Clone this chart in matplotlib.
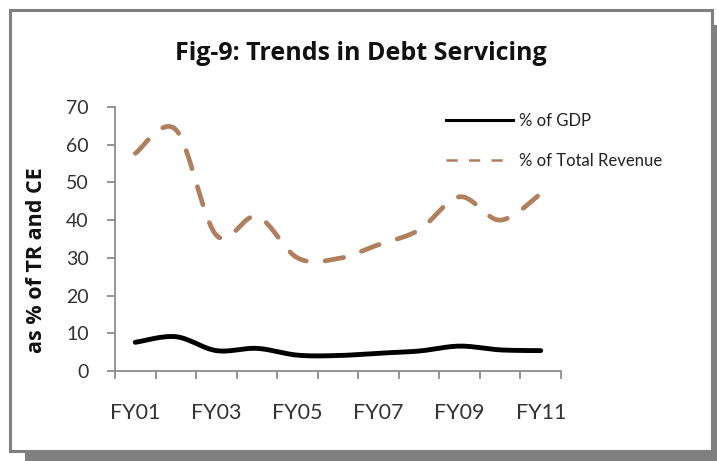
import numpy as np
import matplotlib
matplotlib.use("Agg")
import matplotlib.pyplot as plt
from matplotlib.patches import Rectangle
from matplotlib.lines import Line2D

categories = ["FY01", "FY02", "FY03", "FY04", "FY05", "FY06", "FY07", "FY08", "FY09", "FY10", "FY11"]
pct_gdp = [7.6, 9.1, 5.4, 6.0, 4.2, 4.1, 4.7, 5.3, 6.6, 5.6, 5.4]
pct_total_revenue = [57.7, 64.0, 36.0, 41.0, 30.0, 29.8, 33.5, 37.4, 46.2, 40.0, 47.0]
yticks = [0, 10, 20, 30, 40, 50, 60, 70]

W, H = 717, 461
fig = plt.figure(figsize=(W / 100, H / 100), dpi=100)
fig.patch.set_facecolor("white")

# frame with shadow
fig.add_artist(Rectangle((25 / W, 0), 1, 1 - 25 / H, transform=fig.transFigure,
                         facecolor="#808080", edgecolor="none", zorder=-3))
fig.add_artist(Rectangle((9.5 / W, 1 - 451 / H), 702 / W, 441 / H, transform=fig.transFigure,
                         facecolor="white", edgecolor="#808080", linewidth=2.2, zorder=-2))


def smooth(xs, ys, n=30):
    xs = np.asarray(xs, float)
    ys = np.asarray(ys, float)
    px = np.concatenate([[xs[0]], xs, [xs[-1]]])
    py = np.concatenate([[ys[0]], ys, [ys[-1]]])
    outx, outy = [], []
    t = np.linspace(0, 1, n)
    for i in range(1, len(px) - 2):
        p0x, p0y = px[i], py[i]
        p3x, p3y = px[i + 1], py[i + 1]
        c1x = p0x + (px[i + 1] - px[i - 1]) / 6
        c1y = p0y + (py[i + 1] - py[i - 1]) / 6
        c2x = p3x - (px[i + 2] - px[i]) / 6
        c2y = p3y - (py[i + 2] - py[i]) / 6
        bx = (1 - t) ** 3 * p0x + 3 * (1 - t) ** 2 * t * c1x + 3 * (1 - t) * t ** 2 * c2x + t ** 3 * p3x
        by = (1 - t) ** 3 * p0y + 3 * (1 - t) ** 2 * t * c1y + 3 * (1 - t) * t ** 2 * c2y + t ** 3 * p3y
        outx.append(bx)
        outy.append(by)
    return np.concatenate(outx), np.concatenate(outy)


ax = fig.add_axes([115 / W, 1 - 371 / H, 446 / W, 264 / H])
ax.set_zorder(1)
ax.set_facecolor("none")
x = np.arange(len(categories))

sx, sy = smooth(x, pct_gdp)
ax.plot(sx, sy, color="black", linewidth=3.5, solid_capstyle="round", solid_joinstyle="round")
sx, sy = smooth(x, pct_total_revenue)
ax.plot(sx, sy, color="#B07F5E", linewidth=3.4, dashes=(4.0, 4.0), dash_capstyle="round")

ax.set_xlim(-0.5, len(categories) - 0.5)
ax.set_ylim(0, 70)
ax.set_yticks(yticks)
ax.set_xticks(x[::2])
ax.set_xticklabels(categories[::2])
ax.set_xticks(np.arange(-0.5, len(categories), 1), minor=True)

for s in ["top", "right"]:
    ax.spines[s].set_visible(False)
for s in ["left", "bottom"]:
    ax.spines[s].set_color("#8c8c8c")
    ax.spines[s].set_linewidth(1.3)

ax.tick_params(axis="x", which="major", length=0, pad=23, labelsize=15.5,
               labelcolor="#333333")
ax.tick_params(axis="x", which="minor", length=5.5, width=1.3, color="#8c8c8c", direction="out")
ax.tick_params(axis="y", length=6, width=1.3, color="#8c8c8c", pad=13, labelsize=14,
               labelcolor="#333333")
for lab in ax.get_xticklabels() + ax.get_yticklabels():
    lab.set_fontfamily("Lato")

fig.text(361 / W, 1 - 53 / H, "Fig-9: Trends in Debt Servicing", ha="center", va="center",
         fontsize=18, fontweight="bold", family="Open Sans", color="#111111")
fig.text(37 / W, 1 - 260 / H, "as % of TR and CE", ha="center", va="center", rotation=90,
         fontsize=15.5, fontweight="bold", family="Open Sans", color="#111111")

handles = [Line2D([], [], color="black", linewidth=2.2),
           Line2D([], [], color="#B07F5E", linewidth=1.8, dashes=(4.5, 4.5))]
leg = ax.legend(handles, ["% of GDP", "% of Total Revenue"], frameon=False,
                loc="upper left", bbox_to_anchor=(446 / W, 1 - 113 / H),
                bbox_transform=fig.transFigure, borderpad=0, borderaxespad=0,
                handlelength=4.0, handletextpad=0.4, labelspacing=1.45,
                prop={"family": "Lato", "size": 12})
for t in leg.get_texts():
    t.set_color("#222222")

fig.savefig("out.png", dpi=100, facecolor="white")
